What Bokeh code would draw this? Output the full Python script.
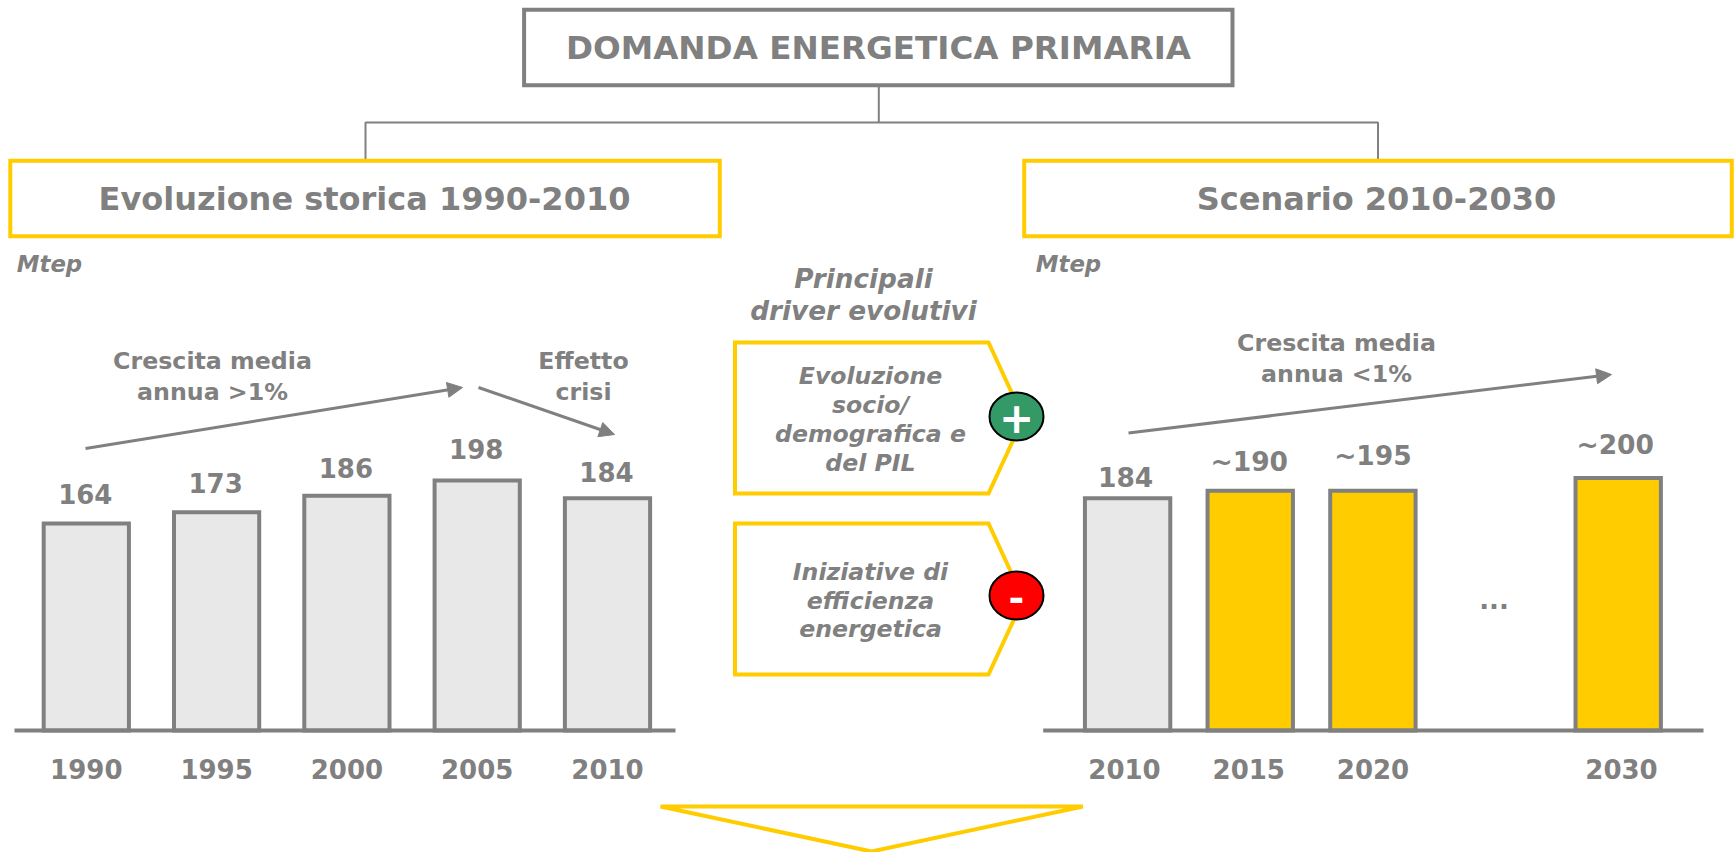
from bokeh.plotting import figure
from bokeh.models import Range1d, LinearAxis, FixedTicker, Arrow, NormalHead
from bokeh.core.properties import value
from bokeh.embed import file_html
from bokeh.resources import INLINE

# ---- data ----
hist_years = [1990, 1995, 2000, 2005, 2010]
hist_values = [164, 173, 186, 198, 184]
hist_labels = ["164", "173", "186", "198", "184"]

scen_years = [2010, 2015, 2020, 2030]
scen_values = [184, 190, 190, 200]   # heights as drawn in the picture
scen_labels = ["184", "~190", "~195", "~200"]

# ---- styles ----
GREY = "#808080"
YELLOW = "#FFCC00"
BAR_GREY = "#E8E8E8"
GREEN = "#339966"
RED = "#FF0000"
FONT = value("DejaVu Sans")

PAGE_W, PAGE_H = 1735, 852
BASE_Y = 730.0
PX_PER_MTEP = 1.262


def year_range(y0, px0, px_per_year):
    return Range1d(y0 - px0 / px_per_year, y0 + (PAGE_W - px0) / px_per_year)


p = figure(width=PAGE_W, height=PAGE_H, output_backend="svg", toolbar_location=None,
           x_range=Range1d(0, PAGE_W), y_range=Range1d(PAGE_H, 0),
           x_axis_location=None, y_axis_location=None, min_border=0,
           outline_line_color=None, background_fill_color="white")
p.grid.visible = False

p.extra_y_ranges["mtep"] = Range1d((BASE_Y - PAGE_H) / PX_PER_MTEP, BASE_Y / PX_PER_MTEP)
p.extra_x_ranges["hist"] = year_range(1990, 85.8, 26.06)
p.extra_x_ranges["scen"] = year_range(2010, 1127.1, 24.53)
p.extra_x_ranges["scen_ticks"] = year_range(2010, 1124.0, 24.85)


def label(x, y, s, size, style="bold", color=GREY):
    p.text([x], [y], text=[s], text_font=FONT, text_font_style=style, text_font_size=size,
           text_color=color, text_align="center", text_baseline="middle")


def box(l, r, t, b, color, lw):
    p.quad(left=[l], right=[r], top=[t], bottom=[b], fill_color="white", line_color=color,
           line_width=lw, line_join="miter")


# connectors
p.line([878.3, 878.3], [85, 122], line_color=GREY, line_width=2)
p.line([365, 365, 1377.5, 1377.5], [160, 122, 122, 160], line_color=GREY, line_width=2)

# header boxes
box(523.6, 1232, 9.3, 84.7, GREY, 4)
label(878, 47, "DOMANDA ENERGETICA PRIMARIA", "32.6px")
box(9.8, 719.3, 160.3, 235.7, YELLOW, 4)
label(364, 198, "Evoluzione storica 1990-2010", "32px")
box(1023.7, 1731.3, 160.3, 235.7, YELLOW, 4)
label(1376, 198, "Scenario 2010-2030", "32px")

label(49, 263, "Mtep", "22.8px", "bold italic")
label(1068, 263, "Mtep", "22.8px", "bold italic")

# centre column
label(863, 278, "Principali", "26.3px", "bold italic")
label(863, 310, "driver evolutivi", "26.3px", "bold italic")

p.patch([734.5, 988, 1023, 988, 734.5], [342, 342, 417.5, 493, 493], fill_color="white",
        line_color=YELLOW, line_width=4, line_join="miter")
p.patch([734.5, 988, 1023, 988, 734.5], [523, 523, 598.5, 674, 674], fill_color="white",
        line_color=YELLOW, line_width=4, line_join="miter")
for y, s in zip([375.5, 404.5, 433, 462], ["Evoluzione", "socio/", "demografica e", "del PIL"]):
    label(870, y, s, "23.6px", "bold italic")
for y, s in zip([571.5, 600, 628.5], ["Iniziative di", "efficienza", "energetica"]):
    label(870, y, s, "23.6px", "bold italic")

p.ellipse([1016], [416], width=[54], height=[48], fill_color=GREEN, line_color="black", line_width=2)
p.ellipse([1016], [595], width=[54], height=[48], fill_color=RED, line_color="black", line_width=2)
label(1016, 417, "+", "42px", "bold", "white")
label(1016, 597, "-", "38px", "bold", "white")

# bars, left
p.vbar(x=hist_years, top=hist_values, bottom=0, width=3.27, x_range_name="hist", y_range_name="mtep",
       fill_color=BAR_GREY, line_color=GREY, line_width=4, line_join="miter")
hist_off = [-30, -29, -28, -32, -26]
hist_dx = [-1, -1, -1, -1, -1]
p.text(x=hist_years, y=hist_values, text=hist_labels, x_range_name="hist", y_range_name="mtep",
       x_offset=hist_dx, y_offset=hist_off, text_font=FONT, text_font_style="bold", text_font_size="26px",
       text_color=GREY, text_align="center", text_baseline="middle")

# bars, right
scen_fill = [BAR_GREY, YELLOW, YELLOW, YELLOW]
p.vbar(x=scen_years, top=scen_values, bottom=0, width=3.48, x_range_name="scen", y_range_name="mtep",
       fill_color=scen_fill, line_color=GREY, line_width=4, line_join="miter")
scen_off = [-21, -29, -35, -34]
scen_dx = [-2, -1, 0, -3]
p.text(x=scen_years, y=scen_values, text=scen_labels, x_range_name="scen", y_range_name="mtep",
       x_offset=scen_dx, y_offset=scen_off, text_font=FONT, text_font_style="bold", text_font_size="26.5px",
       text_color=GREY, text_align="center", text_baseline="middle")
label(1493.5, 598, "...", "26px")

# baselines
p.line([14, 675], [BASE_Y, BASE_Y], line_color=GREY, line_width=4)
p.line([1042.7, 1703], [BASE_Y, BASE_Y], line_color=GREY, line_width=4)

# year axes
for rng, ticks in (("hist", hist_years), ("scen_ticks", scen_years)):
    ax = LinearAxis(x_range_name=rng, ticker=FixedTicker(ticks=ticks), fixed_location=BASE_Y,
                    axis_line_color=None, major_tick_line_color=None, minor_tick_line_color=None,
                    major_label_standoff=22, major_label_text_font="DejaVu Sans",
                    major_label_text_font_style="bold", major_label_text_font_size="26px",
                    major_label_text_color=GREY)
    p.add_layout(ax, "below")


# trend arrows
def arrow(x0, y0, x1, y1):
    p.add_layout(Arrow(x_start=x0, y_start=y0, x_end=x1, y_end=y1, line_color=GREY, line_width=3,
                       end=NormalHead(size=15, fill_color=GREY, line_color=GREY, line_width=1)))


arrow(85, 448, 462, 387)
arrow(478, 387, 614, 434)
arrow(1128, 432.5, 1611, 374)

label(212, 360, "Crescita media", "23.7px")
label(212, 391, "annua >1%", "23.7px")
label(583, 360, "Effetto", "23.7px")
label(583, 391, "crisi", "23.7px")
label(1336, 342, "Crescita media", "23.7px")
label(1336, 373, "annua <1%", "23.7px")

# bottom triangle
p.patch([660, 1082.4, 871], [806, 806, 851], fill_color=None, line_color=YELLOW, line_width=4,
        line_join="bevel")

open("out.html", "w").write(file_html(p, INLINE))
